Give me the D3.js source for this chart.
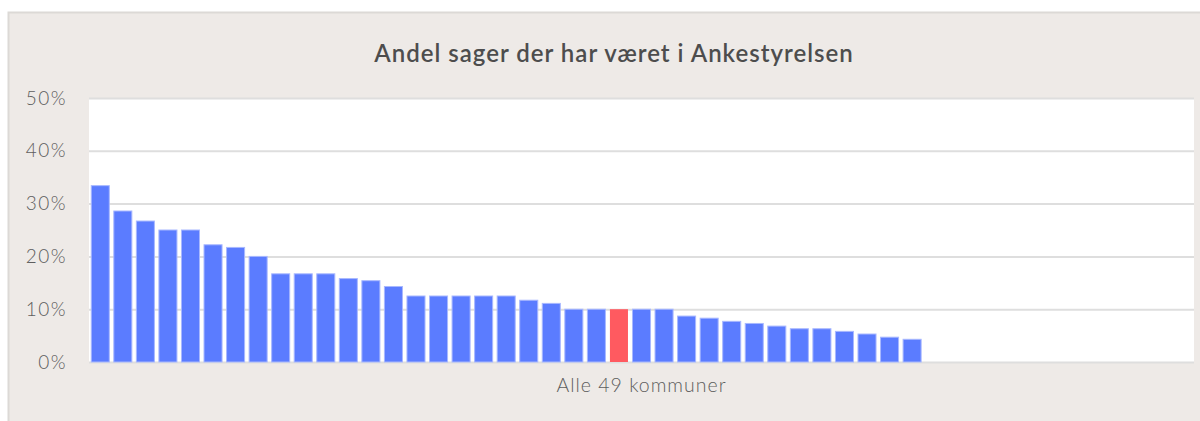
<!DOCTYPE html>
<html>
<head>
<meta charset="utf-8">
<script src="https://cdn.jsdelivr.net/npm/d3@7"></script>
<style>
  body { margin: 0; background: #fff; }
  svg { display: block; }
</style>
</head>
<body>
<div id="chart"></div>
<script>
// andel sager (%) for hver kommune, sorteret faldende - 49 kommuner, 12 uden sager
const values = [33.4, 28.6, 26.7, 25.0, 25.0, 22.2, 21.7, 20.0, 16.7, 16.7, 16.7, 15.8, 15.4, 14.3,
  12.5, 12.5, 12.5, 12.5, 12.5, 11.7, 11.1, 10.0, 10.0, 10.0, 10.0, 10.0, 8.7, 8.3, 7.7, 7.3, 6.8,
  6.3, 6.3, 5.8, 5.3, 4.7, 4.3, 0, 0, 0, 0, 0, 0, 0, 0, 0, 0, 0, 0];
const kommuner = values.map((d, i) => 'K' + (i + 1));
const highlight = 23;
const yTicks = [0, 10, 20, 30, 40, 50];
const title = 'Andel sager der har været i Ankestyrelsen';
const xLabel = 'Alle 49 kommuner';

const width = 1200, height = 421;
const margin = { top: 98, right: 6, bottom: 59, left: 89 };

const svg = d3.select('#chart')
  .append('svg')
  .attr('width', width)
  .attr('height', height);

// panel
svg.append('rect')
  .attr('x', 8.5).attr('y', 12.5)
  .attr('width', width).attr('height', height)
  .attr('fill', '#eeeae7')
  .attr('stroke', '#dcd9d6')
  .attr('stroke-width', 2);

const x = d3.scaleBand()
  .domain(kommuner)
  .range([margin.left, width - margin.right])
  .paddingInner(0.2)
  .paddingOuter(0.1);

const y = d3.scaleLinear()
  .domain([0, 50])
  .range([height - margin.bottom, margin.top]);

// plot area
svg.append('rect')
  .attr('x', margin.left)
  .attr('y', margin.top)
  .attr('width', width - margin.right - margin.left)
  .attr('height', y(0) - margin.top)
  .attr('fill', '#fff');

const grid = svg.append('g')
  .attr('transform', `translate(${margin.left},0)`)
  .call(d3.axisLeft(y).tickValues(yTicks).tickSize(-(width - margin.right - margin.left)).tickFormat(''));
grid.select('.domain').remove();
grid.selectAll('line').attr('stroke', '#dedede').attr('stroke-width', 2);

const yAxis = svg.append('g')
  .attr('transform', `translate(67,0)`)
  .call(d3.axisLeft(y).tickValues(yTicks).tickSize(0).tickPadding(0).tickFormat(d => d + '%'));
yAxis.select('.domain').remove();
yAxis.selectAll('text')
  .attr('fill', '#5e5e5e')
  .style('font-family', 'Lato, sans-serif')
  .style('font-size', '19px')
  .style('font-weight', 300)
  .style('letter-spacing', '1.5px');

svg.selectAll('.bar')
  .data(values)
  .join('rect')
  .attr('class', 'bar')
  .attr('x', (d, i) => x(kommuner[i]))
  .attr('y', d => y(d))
  .attr('width', x.bandwidth())
  .attr('height', d => y(0) - y(d))
  .attr('fill', (d, i) => i === highlight ? '#ff5a60' : '#5b7cff')
  .attr('stroke', (d, i) => i === highlight ? 'none' : '#a8b8ff')
  .attr('stroke-width', (d) => d > 0 ? 1 : 0);

svg.append('text')
  .attr('x', 614)
  .attr('y', 62)
  .attr('text-anchor', 'middle')
  .attr('fill', '#4d4d4d')
  .style('font-family', 'Lato, sans-serif')
  .style('font-size', '24px')
  .style('font-weight', 600)
  .style('letter-spacing', '1px')
  .text(title);

svg.append('text')
  .attr('x', (margin.left + width - margin.right) / 2)
  .attr('y', 392)
  .attr('text-anchor', 'middle')
  .attr('fill', '#5e5e5e')
  .style('font-family', 'Lato, sans-serif')
  .style('font-size', '19.5px')
  .style('font-weight', 300)
  .style('letter-spacing', '1px')
  .text(xLabel);
</script>
</body>
</html>
